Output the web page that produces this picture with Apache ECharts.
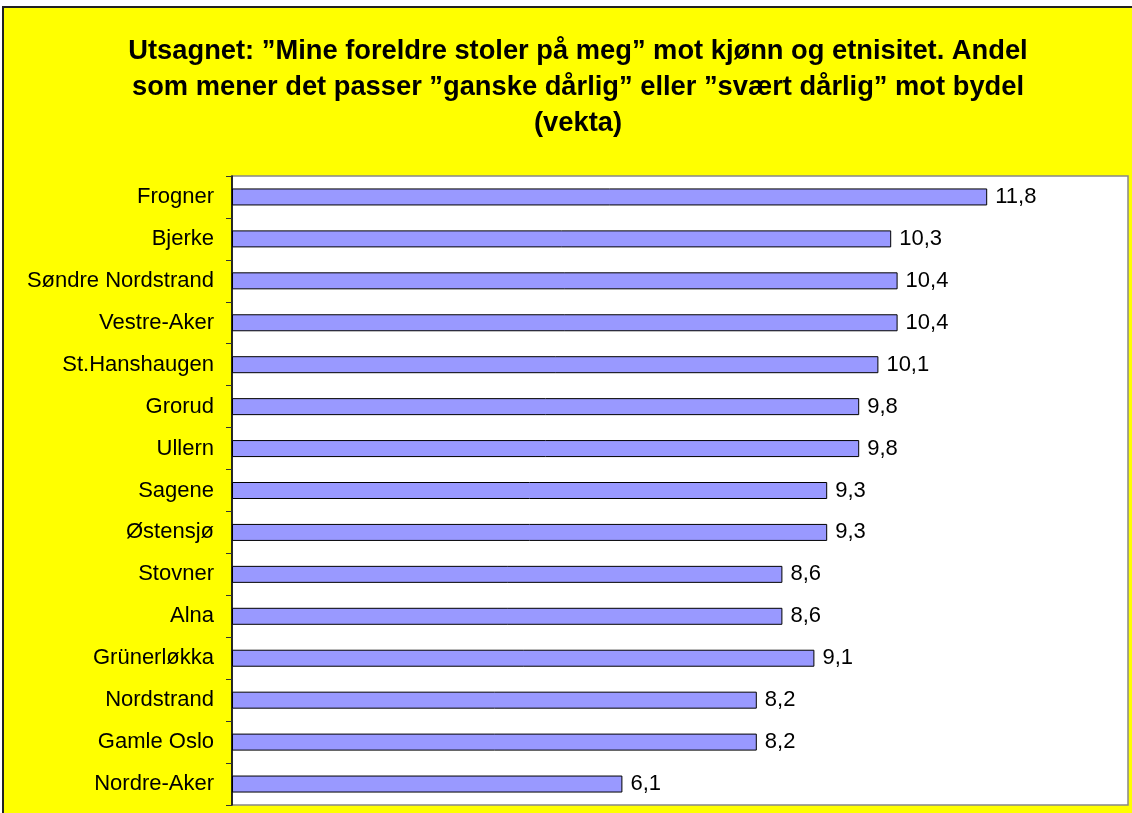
<!DOCTYPE html>
<html>
<head>
<meta charset="utf-8">
<script src="https://cdn.jsdelivr.net/npm/echarts@6/dist/echarts.min.js"></script>
<style>
  html, body { margin: 0; padding: 0; background: #fff; overflow: hidden; }
  #chart {
    position: absolute;
    left: 2px;
    top: 6px;
    width: 1128px;
    height: 805px;
    border-top: 2px solid #222;
    border-left: 2px solid #222;
    background: #ffff00;
  }
</style>
</head>
<body>
<div id="chart"></div>
<script>
// Bydeler, ovenfra og ned
const categories = [
  'Frogner', 'Bjerke', 'Søndre Nordstrand', 'Vestre-Aker', 'St.Hanshaugen',
  'Grorud', 'Ullern', 'Sagene', 'Østensjø', 'Stovner', 'Alna',
  'Grünerløkka', 'Nordstrand', 'Gamle Oslo', 'Nordre-Aker'
]
const values = [11.8, 10.3, 10.4, 10.4, 10.1, 9.8, 9.8, 9.3, 9.3, 8.6, 8.6, 9.1, 8.2, 8.2, 6.1]
const titleLines = [
  'Utsagnet: ”Mine foreldre stoler på meg” mot kjønn og etnisitet. Andel',
  'som mener det passer ”ganske dårlig” eller ”svært dårlig” mot bydel',
  '(vekta)'
]
const xMin = 0
const xMax = 14

const chart = echarts.init(document.getElementById('chart'))

chart.setOption({
  animation: false,
  textStyle: { fontFamily: 'Liberation Sans, Arial, sans-serif' },
  graphic: [{
    type: 'text',
    x: 574,
    y: 25,
    style: {
      text: titleLines.join('\n'),
      font: 'bold 27.3px "Liberation Sans", Arial, sans-serif',
      fill: '#000',
      textAlign: 'center',
      textVerticalAlign: 'top',
      lineHeight: 36
    }
  }],
  grid: {
    left: 228,
    right: 4,
    top: 168,
    bottom: 8,
    show: true,
    backgroundColor: '#ffffff',
    borderColor: '#888888',
    borderWidth: 1.5
  },
  xAxis: {
    type: 'value',
    min: xMin,
    max: xMax,
    show: false,
    splitLine: { show: false }
  },
  yAxis: {
    type: 'category',
    data: categories,
    inverse: true,
    axisLine: { show: true, lineStyle: { color: '#000', width: 1.5 } },
    axisTick: { show: true, length: 6, inside: false, lineStyle: { color: '#333', width: 1 } },
    axisLabel: {
      color: '#000',
      fontSize: 22,
      margin: 18,
      fontFamily: 'Liberation Sans, Arial, sans-serif'
    }
  },
  series: [{
    type: 'bar',
    data: values,
    barWidth: 17,
    itemStyle: {
      color: '#9999ff',
      borderColor: '#000',
      borderWidth: 1
    },
    label: {
      show: true,
      position: 'right',
      distance: 8,
      color: '#000',
      fontSize: 22,
      fontFamily: 'Liberation Sans, Arial, sans-serif',
      formatter: p => String(p.value).replace('.', ',')
    }
  }]
})
</script>
</body>
</html>
